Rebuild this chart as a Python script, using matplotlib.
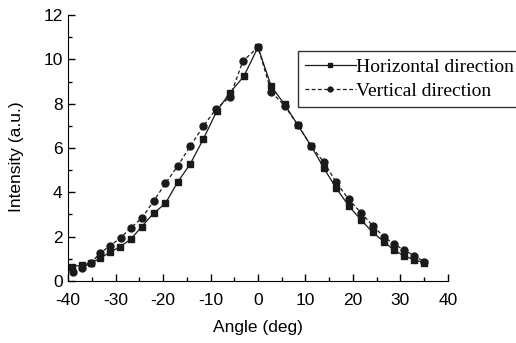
import matplotlib.pyplot as plt
from matplotlib.ticker import MultipleLocator

# Horizontal direction (squares, solid line)
h_angle = [-39.1, -37.1, -35.2, -33.3, -31.2, -29.0, -26.8, -24.5, -22.0, -19.5, -16.9,
           -14.3, -11.5, -8.7, -5.9, -3.0, 0.0, 2.8, 5.6, 8.4, 11.2, 13.9, 16.5, 19.1,
           21.7, 24.2, 26.5, 28.6, 30.7, 32.9, 35.0]
h_int = [0.64, 0.72, 0.80, 1.02, 1.29, 1.55, 1.88, 2.45, 3.05, 3.50, 4.47,
         5.27, 6.41, 7.66, 8.50, 9.23, 10.55, 8.78, 7.97, 7.03, 6.09, 5.08, 4.18, 3.39,
         2.75, 2.19, 1.77, 1.40, 1.14, 0.95, 0.83]

# Vertical direction (circles, dashed line)
v_angle = [-38.9, -37.1, -35.2, -33.3, -31.2, -28.9, -26.8, -24.5, -22.0, -19.5, -16.9,
           -14.3, -11.5, -8.8, -5.9, -3.2, 0.0, 2.8, 5.6, 8.4, 11.2, 13.9, 16.5, 19.1,
           21.7, 24.2, 26.5, 28.6, 30.7, 32.9, 35.0]
v_int = [0.42, 0.60, 0.80, 1.25, 1.58, 1.95, 2.40, 2.82, 3.60, 4.40, 5.19,
         6.08, 6.98, 7.78, 8.30, 9.92, 10.55, 8.53, 7.91, 7.03, 6.09, 5.35, 4.45, 3.68,
         3.08, 2.48, 2.00, 1.67, 1.40, 1.14, 0.87]

plt.rcParams['font.family'] = ['Liberation Sans', 'DejaVu Sans']
plt.rcParams['axes.unicode_minus'] = False

fig = plt.figure(figsize=(5.16, 3.43), dpi=100)
ax = fig.add_axes([0.132, 0.181, 0.736, 0.775])

col = '#1a1a1a'
ax.plot(h_angle, h_int, '-', color=col, lw=0.9, marker='s', ms=5,
        label='Horizontal direction')
ax.plot(v_angle, v_int, '--', color=col, lw=0.9, marker='o', ms=5,
        dashes=(3, 2), label='Vertical direction')

ax.set_xlim(-40, 40)
ax.set_ylim(0, 12)
ax.xaxis.set_major_locator(MultipleLocator(10))
ax.xaxis.set_minor_locator(MultipleLocator(5))
ax.yaxis.set_major_locator(MultipleLocator(2))
ax.yaxis.set_minor_locator(MultipleLocator(1))
ax.tick_params(which='both', direction='in', labelsize=12.5, width=1)
ax.tick_params(which='major', length=5)
ax.tick_params(which='minor', length=3)
ax.tick_params(axis='x', which='major', pad=9)
ax.tick_params(axis='y', which='major', pad=4)
ax.spines['top'].set_visible(False)
ax.spines['right'].set_visible(False)

ax.set_xlabel('Angle (deg)', fontsize=12.5, labelpad=8)
ax.set_ylabel('Intensity (a.u.)', fontsize=12.5)
ax.yaxis.set_label_coords(-0.115, 0.466)

leg = ax.legend(loc='upper left', bbox_to_anchor=(0.578, 0.851),
                bbox_transform=fig.transFigure, frameon=True, fancybox=False,
                edgecolor='black', handlelength=2.6, handletextpad=0.0,
                borderpad=0.35, labelspacing=0.35, markerscale=0.7,
                borderaxespad=0,
                prop={'family': 'Liberation Serif', 'size': 14})
leg.get_frame().set_linewidth(1.0)

fig.savefig('out.png', dpi=100)
